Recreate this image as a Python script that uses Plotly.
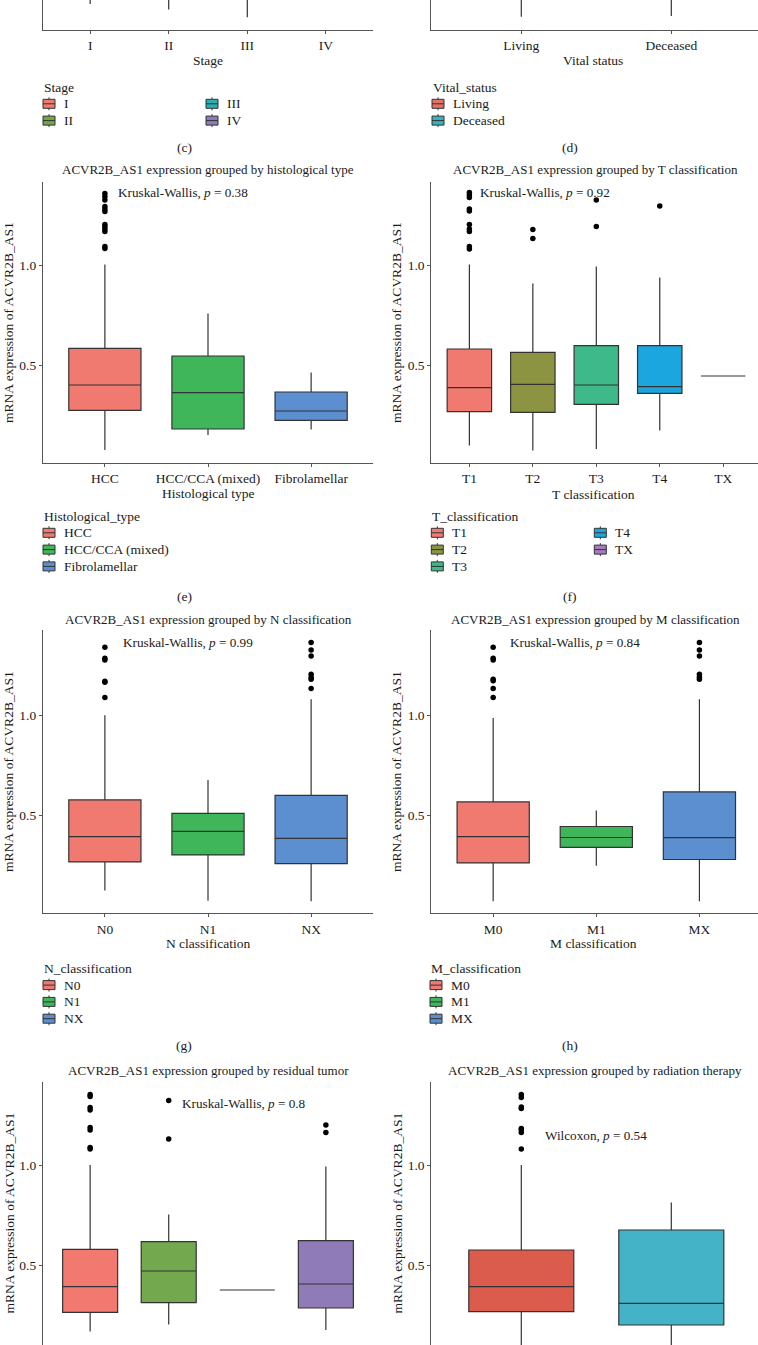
import plotly.graph_objects as go

W, H = 758, 1345
FONT = "Liberation Serif"
OUTLINE = "#333333"
AXIS = "#555555"
INK = "#1a1a1a"
TICK_SIZE = 13.5
LABEL_SIZE = 13.5

# ---------------- data ----------------
# (c) Stage - only the lower whiskers are visible at the top of the crop
stage_cats = ["I", "II", "III", "IV"]
stage_colors = ["#F07A70", "#72A64A", "#2BB0B2", "#8E7BBA"]
stage_lo = [0.14, 0.113, 0.074, 0.20]
stage_q1 = [0.27, 0.26, 0.27, 0.30]
stage_med = [0.39, 0.41, 0.38, 0.42]
stage_q3 = [0.57, 0.60, 0.59, 0.55]
stage_hi = [1.00, 1.05, 1.02, 0.80]
stage_out = [[], [], [], []]

# (d) Vital status
vital_cats = ["Living", "Deceased"]
vital_colors = ["#E66F66", "#35B2BE"]
vital_lo = [0.076, 0.080]
vital_q1 = [0.27, 0.26]
vital_med = [0.39, 0.40]
vital_q3 = [0.58, 0.60]
vital_hi = [1.00, 1.02]
vital_out = [[], []]

# (e) Histological type
hist_cats = ["HCC", "HCC/CCA (mixed)", "Fibrolamellar"]
hist_colors = ["#F07A70", "#3FB65A", "#5B8FD0"]
hist_lo = [0.075, 0.150, 0.178]
hist_q1 = [0.273, 0.180, 0.223]
hist_med = [0.400, 0.362, 0.270]
hist_q3 = [0.583, 0.545, 0.365]
hist_hi = [1.003, 0.758, 0.462]
hist_out = [[1.083, 1.092, 1.167, 1.180, 1.192, 1.203, 1.267, 1.280, 1.292, 1.325, 1.342, 1.358], [], []]

# (f) T classification
t_cats = ["T1", "T2", "T3", "T4", "TX"]
t_colors = ["#F07A70", "#8D9441", "#3DB98A", "#1BA6DF", "#A779C0"]
t_lo = [0.097, 0.073, 0.080, 0.172, 0.445]
t_q1 = [0.267, 0.263, 0.303, 0.358, 0.445]
t_med = [0.387, 0.403, 0.400, 0.392, 0.445]
t_q3 = [0.580, 0.563, 0.597, 0.597, 0.445]
t_hi = [1.003, 0.908, 0.992, 0.938, 0.445]
t_out = [[1.080, 1.092, 1.167, 1.180, 1.203, 1.270, 1.280, 1.338, 1.350, 1.363],
         [1.133, 1.178], [1.192, 1.325], [1.295], []]

# (g) N classification
n_cats = ["N0", "N1", "NX"]
n_colors = ["#F07A70", "#3FB65A", "#5B8FD0"]
n_lo = [0.124, 0.073, 0.070]
n_q1 = [0.267, 0.302, 0.258]
n_med = [0.393, 0.420, 0.385]
n_q3 = [0.577, 0.510, 0.600]
n_hi = [1.000, 0.676, 1.080]
n_out = [[1.089, 1.165, 1.170, 1.277, 1.285, 1.340], [],
         [1.134, 1.180, 1.190, 1.205, 1.297, 1.327, 1.364]]

# (h) M classification
m_cats = ["M0", "M1", "MX"]
m_colors = ["#F07A70", "#3FB65A", "#5B8FD0"]
m_lo = [0.070, 0.248, 0.070]
m_q1 = [0.262, 0.340, 0.279]
m_med = [0.393, 0.389, 0.388]
m_q3 = [0.567, 0.444, 0.617]
m_hi = [0.987, 0.524, 1.080]
m_out = [[1.089, 1.134, 1.173, 1.180, 1.277, 1.285, 1.340], [],
         [1.180, 1.190, 1.205, 1.297, 1.327, 1.364]]

# (i) residual tumor
r_cats = ["R0", "R1", "R2", "RX"]
r_colors = ["#F27970", "#74A84F", "#2BB0B2", "#8E7BB8"]
r_lo = [0.168, 0.203, 0.375, 0.175]
r_q1 = [0.263, 0.312, 0.375, 0.285]
r_med = [0.392, 0.470, 0.375, 0.405]
r_q3 = [0.578, 0.617, 0.375, 0.622]
r_hi = [1.000, 0.753, 0.375, 0.992]
r_out = [[1.080, 1.088, 1.175, 1.187, 1.275, 1.287, 1.342, 1.353], [1.130, 1.322], [], [1.163, 1.200]]

# (j) radiation therapy
rad_cats = ["NO", "YES"]
rad_colors = ["#DB5B4C", "#45B3C7"]
rad_lo = [0.070, 0.080]
rad_q1 = [0.267, 0.200]
rad_med = [0.392, 0.308]
rad_q3 = [0.575, 0.675]
rad_hi = [1.000, 0.813]
rad_out = [[1.080, 1.163, 1.175, 1.183, 1.283, 1.290, 1.337, 1.353], []]


def X(px):
    return px / W


def Y(py):
    return 1 - py / H


fig = go.Figure()


def add_text(s, x, y, size=LABEL_SIZE, xanchor="center", angle=0):
    fig.add_annotation(x=X(x), y=Y(y), xref="paper", yref="paper", text=s,
                       showarrow=False, xanchor=xanchor, yanchor="middle",
                       textangle=angle, font=dict(family=FONT, size=size, color=INK))


def add_panel(idx, cats, colors, lo, q1, med, q3, hi, outliers,
              xpx, ypx, yrange, show_xline=True):
    xa, ya = ("x", "y") if idx == 1 else (f"x{idx}", f"y{idx}")
    for i, c in enumerate(cats):
        fig.add_trace(go.Box(
            x=[c], q1=[q1[i]], median=[med[i]], q3=[q3[i]],
            lowerfence=[lo[i]], upperfence=[hi[i]],
            fillcolor=colors[i], line=dict(color=OUTLINE, width=1.2),
            width=0.7, whiskerwidth=0, boxpoints=False,
            xaxis=xa, yaxis=ya, showlegend=False, hoverinfo="skip"))
        if outliers[i]:
            fig.add_trace(go.Scatter(
                x=[c] * len(outliers[i]), y=outliers[i], mode="markers",
                marker=dict(color="black", size=5.5),
                xaxis=xa, yaxis=ya, showlegend=False, hoverinfo="skip"))
    x0, x1 = xpx
    step = 330 / (len(cats) + 0.2)
    x1_vis = min(x1, W)
    suffix = "" if idx == 1 else str(idx)
    fig.layout["xaxis" + suffix] = dict(
        domain=[X(x0), X(x1_vis)], anchor=ya, type="category",
        categoryorder="array", categoryarray=cats,
        range=[-0.6, -0.6 + (x1_vis - x0) / step],
        showline=show_xline, linecolor=AXIS, linewidth=1.2,
        ticks="outside" if show_xline else "", ticklen=3, tickcolor=AXIS,
        showticklabels=show_xline,
        tickfont=dict(family=FONT, size=TICK_SIZE, color=INK),
        showgrid=False, zeroline=False, fixedrange=True)
    fig.layout["yaxis" + suffix] = dict(
        domain=[Y(ypx[1]), Y(ypx[0])], anchor=xa, range=yrange,
        tickvals=[0.5, 1.0], ticktext=["0.5", "1.0"],
        showline=True, linecolor=AXIS, linewidth=1.2,
        ticks="outside", ticklen=3, tickcolor=AXIS,
        tickfont=dict(family=FONT, size=TICK_SIZE, color=INK),
        showgrid=False, zeroline=False, fixedrange=True)


def add_legend(title, x0, y_title, rows, labels, colors, col_dx=163):
    add_text(title, x0 - 1, y_title, xanchor="left")
    for k, (lab, col) in enumerate(zip(labels, colors)):
        c = k // rows
        r = k % rows
        lx = x0 + c * col_dx
        cy = y_title + 16.8 * (r + 1)
        fig.add_shape(type="rect", xref="paper", yref="paper",
                      x0=X(lx), x1=X(lx + 12), y0=Y(cy + 4.5), y1=Y(cy - 4.5),
                      fillcolor=col, line=dict(color=OUTLINE, width=1))
        fig.add_shape(type="line", xref="paper", yref="paper",
                      x0=X(lx), x1=X(lx + 12), y0=Y(cy), y1=Y(cy),
                      line=dict(color=OUTLINE, width=1))
        for a, b in ((cy - 6.5, cy - 4.5), (cy + 4.5, cy + 6.5)):
            fig.add_shape(type="line", xref="paper", yref="paper",
                          x0=X(lx + 6), x1=X(lx + 6), y0=Y(a), y1=Y(b),
                          line=dict(color=OUTLINE, width=1))
        add_text(lab, lx + 19, cy, xanchor="left")


LEFT = (43, 373)
RIGHT = (431.3, 761.3)
ROW_TOP = ((0, 30), [0.01, 0.16])
ROW_EF = ((182, 463), [0.01, 1.415])
ROW_GH = ((630, 913.3), [0.01, 1.4265])
ROW_IJ = ((1081.7, 1345), [0.1, 1.4165])

add_panel(1, stage_cats, stage_colors, stage_lo, stage_q1, stage_med, stage_q3, stage_hi, stage_out,
          LEFT, *ROW_TOP)
add_panel(2, vital_cats, vital_colors, vital_lo, vital_q1, vital_med, vital_q3, vital_hi, vital_out,
          RIGHT, *ROW_TOP)
add_panel(3, hist_cats, hist_colors, hist_lo, hist_q1, hist_med, hist_q3, hist_hi, hist_out,
          LEFT, *ROW_EF)
add_panel(4, t_cats, t_colors, t_lo, t_q1, t_med, t_q3, t_hi, t_out, RIGHT, *ROW_EF)
add_panel(5, n_cats, n_colors, n_lo, n_q1, n_med, n_q3, n_hi, n_out, LEFT, *ROW_GH)
add_panel(6, m_cats, m_colors, m_lo, m_q1, m_med, m_q3, m_hi, m_out, RIGHT, *ROW_GH)
add_panel(7, r_cats, r_colors, r_lo, r_q1, r_med, r_q3, r_hi, r_out, LEFT, *ROW_IJ, show_xline=False)
add_panel(8, rad_cats, rad_colors, rad_lo, rad_q1, rad_med, rad_q3, rad_hi, rad_out, RIGHT, *ROW_IJ,
          show_xline=False)

# titles
add_text("ACVR2B_AS1 expression grouped by histological type", 208, 170, 13)
add_text("ACVR2B_AS1 expression grouped by T classification", 595, 170, 13)
add_text("ACVR2B_AS1 expression grouped by N classification", 208, 620, 13)
add_text("ACVR2B_AS1 expression grouped by M classification", 595, 620, 13)
add_text("ACVR2B_AS1 expression grouped by residual tumor", 208, 1070.7, 13)
add_text("ACVR2B_AS1 expression grouped by radiation therapy", 595, 1070.7, 13)

# test statistics
add_text("Kruskal-Wallis, <i>p</i> = 0.38", 116, 193, 13.2, xanchor="left")
add_text("Kruskal-Wallis, <i>p</i> = 0.92", 477.7, 192, 13.2, xanchor="left")
add_text("Kruskal-Wallis, <i>p</i> = 0.99", 121, 642.7, 13.2, xanchor="left")
add_text("Kruskal-Wallis, <i>p</i> = 0.84", 508, 642.7, 13.2, xanchor="left")
add_text("Kruskal-Wallis, <i>p</i> = 0.8", 179.7, 1103.3, 13.2, xanchor="left")
add_text("Wilcoxon, <i>p</i> = 0.54", 542.7, 1135, 13.2, xanchor="left")

# axis titles
for yc in (322.5, 771.5, 1213):
    add_text("mRNA expression of ACVR2B_AS1", 8.5, yc, angle=-90)
    add_text("mRNA expression of ACVR2B_AS1", 396.5, yc, angle=-90)
add_text("Stage", 208, 61)
add_text("Vital status", 593, 61)
add_text("Histological type", 208, 494)
add_text("T classification", 593, 495)
add_text("N classification", 208, 943)
add_text("M classification", 593, 943)

# legends
add_legend("Stage", 43, 87, 2, stage_cats, stage_colors)
add_legend("Vital_status", 432, 87, 2, vital_cats, vital_colors)
add_legend("Histological_type", 43, 516, 3, hist_cats, hist_colors)
add_legend("T_classification", 431.3, 516, 3, t_cats, t_colors)
add_legend("N_classification", 43, 968.3, 3, n_cats, n_colors)
add_legend("M_classification", 430, 968.3, 3, m_cats, m_colors)

# panel letters
for lab, x, y in (("(c)", 184, 148), ("(d)", 570, 148), ("(e)", 184, 596),
                  ("(f)", 570, 596), ("(g)", 184, 1045.7), ("(h)", 570, 1045.7)):
    add_text(lab, x, y, 13.5)

fig.update_layout(width=W, height=H, margin=dict(l=0, r=0, t=0, b=0),
                  paper_bgcolor="white", plot_bgcolor="white",
                  showlegend=False, boxmode="overlay")

# the page's default 8px body margin would shift the whole figure
fig.write_html("out.html", config={"displayModeBar": False},
               post_script="document.body.style.margin='0';")
